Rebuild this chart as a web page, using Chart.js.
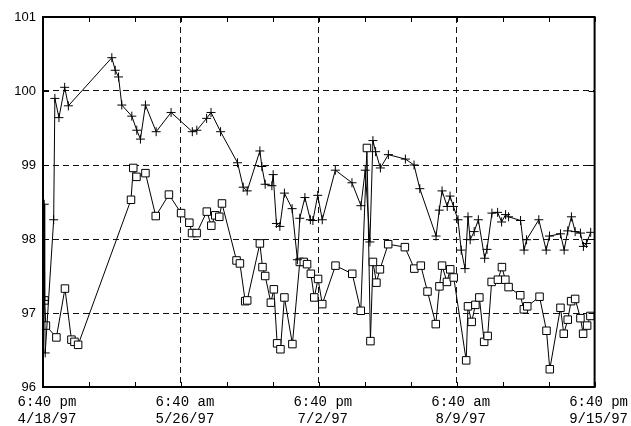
<!DOCTYPE html>
<html>
<head>
<meta charset="utf-8">
<script src="https://cdn.jsdelivr.net/npm/chart.js@4.4.1/dist/chart.umd.min.js"></script>
<style>
  body { margin: 0; background: #fff; }
  #wrap { width: 631px; height: 426px; }
</style>
</head>
<body>
<div id="wrap"><canvas id="tempChart" width="631" height="426"></canvas></div>
<script>
// Days since 4/18/97 6:40 pm
const tickDays = [0, 37.5, 75, 112.5, 150];
const tickLabels = [
    ['6:40 pm', '4/18/97'],
    ['6:40 am', '5/26/97'],
    ['6:40 pm', '7/2/97'],
    ['6:40 am', '8/9/97'],
    ['6:40 pm', '9/15/97']
];

// Upper series (crosses)
const crossDays = [0.33, 0.46, 0.6, 2.9, 3.23, 4.34, 5.89, 6.9, 18.72, 19.64,
    20.54, 21.43, 24.15, 25.5, 26.5, 27.86, 30.77, 34.83, 40.61, 41.83,
    44.49, 45.69, 48.29, 52.9, 54.45, 55.53, 58.98, 59.52, 60.42, 62.24,
    62.59, 63.48, 64.41, 65.65, 67.74, 69.18, 69.83, 71.22, 72.71, 73.4,
    74.71, 75.94, 79.49, 84.02, 86.46, 87.63, 88.9, 89.72, 90.45, 91.75,
    93.92, 98.54, 100.9, 102.47, 106.89, 107.76, 108.52, 109.93, 110.69, 111.61,
    112.86, 113.73, 114.76, 115.57, 116.17, 117.25, 118.39, 120.1, 120.73, 122.08,
    123.63, 124.71, 125.8, 126.61, 129.87, 130.82, 131.5, 134.83, 136.84, 137.73,
    140.72, 141.72, 142.7, 143.7, 144.71, 146.15, 146.96, 147.78, 148.94];
const crossTemps = [98.47, 97.17, 96.46, 98.26, 99.90, 99.64, 100.05, 99.80, 100.45, 100.28,
    100.19, 99.81, 99.66, 99.47, 99.35, 99.81, 99.45, 99.71, 99.45, 99.47,
    99.63, 99.71, 99.45, 99.03, 98.70, 98.65, 99.19, 98.98, 98.74, 98.72,
    98.87, 98.21, 98.17, 98.62, 98.41, 97.72, 98.28, 98.56, 98.26, 98.25,
    98.59, 98.26, 98.93, 98.76, 98.45, 98.93, 97.96, 99.33, 99.18, 98.96,
    99.14, 99.08, 99.00, 98.68, 98.04, 98.39, 98.65, 98.44, 98.58, 98.44,
    98.26, 97.85, 97.60, 98.30, 97.99, 98.10, 98.26, 97.74, 97.86, 98.35,
    98.36, 98.23, 98.33, 98.30, 98.25, 97.85, 97.99, 98.26, 97.85, 98.04,
    98.07, 97.85, 98.11, 98.30, 98.10, 98.08, 97.90, 97.94, 98.09];

// Lower series (squares)
const squareDays = [0.41, 0.79, 3.64, 5.97, 7.73, 8.55, 9.55, 23.93, 24.55, 25.42,
    27.86, 30.66, 34.24, 37.55, 39.8, 40.53, 41.78, 44.55, 45.77, 46.85,
    47.94, 48.67, 52.63, 53.55, 54.99, 55.53, 58.98, 59.69, 60.42, 61.96,
    62.78, 63.67, 64.57, 65.65, 67.82, 69.83, 70.92, 71.81, 72.84, 73.77,
    74.8, 75.94, 79.54, 84.1, 86.41, 88.09, 89.04, 89.72, 90.67, 91.62,
    93.87, 98.4, 100.98, 102.74, 104.56, 106.81, 107.81, 108.52, 109.85, 110.74,
    111.69, 115.08, 115.57, 116.58, 117.58, 118.66, 119.97, 120.92, 122.0, 123.71,
    124.8, 125.72, 126.61, 129.79, 130.76, 131.69, 135.03, 136.92, 137.82, 140.72,
    141.62, 142.7, 143.62, 144.71, 146.15, 146.88, 147.97, 148.86];
const squareTemps = [97.17, 96.83, 96.67, 97.33, 96.64, 96.61, 96.57, 98.53, 98.96, 98.84,
    98.89, 98.31, 98.60, 98.35, 98.22, 98.08, 98.08, 98.37, 98.18, 98.32,
    98.30, 98.48, 97.71, 97.67, 97.16, 97.17, 97.94, 97.62, 97.50, 97.14,
    97.32, 96.59, 96.51, 97.21, 96.58, 97.69, 97.69, 97.66, 97.53, 97.21,
    97.46, 97.12, 97.64, 97.53, 97.03, 99.23, 96.62, 97.69, 97.41, 97.59,
    97.93, 97.89, 97.60, 97.64, 97.29, 96.85, 97.36, 97.64, 97.42, 97.59,
    97.48, 96.36, 97.09, 96.88, 97.11, 97.21, 96.61, 96.69, 97.42, 97.45,
    97.62, 97.45, 97.35, 97.24, 97.05, 97.09, 97.22, 96.76, 96.24, 97.07,
    96.72, 96.91, 97.16, 97.19, 96.93, 96.72, 96.83, 96.96];

const toPoints = (xs, ys) => xs.map((d, i) => ({ x: d, y: ys[i] }));

const isInnerMajor = v => tickDays.includes(v) && v > tickDays[0] && v < tickDays[tickDays.length - 1];

// Box around the plot plus short inward tick marks
const framePlugin = {
    id: 'frame',
    afterDraw(chart) {
        const { ctx, chartArea: a, scales: { x, y } } = chart;
        ctx.save();
        ctx.strokeStyle = '#000';
        ctx.lineWidth = 1;
        ctx.beginPath();
        x.ticks.forEach(t => {
            const px = Math.round(x.getPixelForValue(t.value)) + 0.5;
            ctx.moveTo(px, a.top);
            ctx.lineTo(px, a.top + 5);
            ctx.moveTo(px, a.bottom);
            ctx.lineTo(px, a.bottom - 5);
        });
        y.ticks.forEach(t => {
            const py = Math.round(y.getPixelForValue(t.value)) + 0.5;
            ctx.moveTo(a.left, py);
            ctx.lineTo(a.left + 6, py);
            ctx.moveTo(a.right, py);
            ctx.lineTo(a.right - 6, py);
        });
        ctx.stroke();
        ctx.lineWidth = 2;
        ctx.strokeRect(a.left, a.top, a.right - a.left, a.bottom - a.top);
        ctx.restore();
    }
};

const ctx = document.getElementById('tempChart').getContext('2d');
new Chart(ctx, {
    type: 'line',
    data: {
        datasets: [{
            data: toPoints(crossDays, crossTemps),
            borderColor: '#000',
            borderWidth: 1,
            pointStyle: 'cross',
            pointRadius: 4.5,
            pointBorderColor: '#000',
            pointBorderWidth: 1,
            tension: 0
        }, {
            data: toPoints(squareDays, squareTemps),
            borderColor: '#000',
            borderWidth: 1,
            pointStyle: 'rect',
            pointRadius: 5.3,
            pointBackgroundColor: '#fff',
            pointBorderColor: '#000',
            pointBorderWidth: 1,
            tension: 0
        }]
    },
    options: {
        responsive: false,
        animation: false,
        events: [],
        layout: { padding: { top: 17, right: 35, left: 0, bottom: 0 } },
        plugins: {
            legend: { display: false },
            tooltip: { enabled: false }
        },
        scales: {
            x: {
                type: 'linear',
                min: 0,
                max: 150,
                afterFit: s => { s.height = 39; },
                afterBuildTicks: s => {
                    const ticks = [];
                    for (let v = 0; v <= 150; v += 12.5) ticks.push({ value: v });
                    s.ticks = ticks;
                },
                ticks: {
                    autoSkip: false,
                    maxRotation: 0,
                    padding: 7,
                    labelOffset: 4,
                    color: '#000',
                    font: { family: '"Liberation Mono", "Courier New", monospace', size: 14 },
                    callback: v => {
                        const i = tickDays.indexOf(v);
                        return i >= 0 ? tickLabels[i] : '';
                    }
                },
                grid: {
                    drawTicks: false,
                    lineWidth: 1,
                    color: c => (c.tick && isInnerMajor(c.tick.value)) ? '#111' : 'rgba(0,0,0,0)'
                },
                border: { display: false, dash: [6, 4] }
            },
            y: {
                min: 96,
                max: 101,
                afterFit: s => { s.width = 43; },
                ticks: {
                    stepSize: 1,
                    padding: 7,
                    color: '#000',
                    font: { family: '"Liberation Sans", Arial, sans-serif', size: 13 }
                },
                grid: {
                    drawTicks: false,
                    lineWidth: 1,
                    color: c => (c.tick && c.tick.value > 96 && c.tick.value < 101) ? '#111' : 'rgba(0,0,0,0)'
                },
                border: { display: false, dash: [6, 4] }
            }
        }
    },
    plugins: [framePlugin]
});
</script>
</body>
</html>
